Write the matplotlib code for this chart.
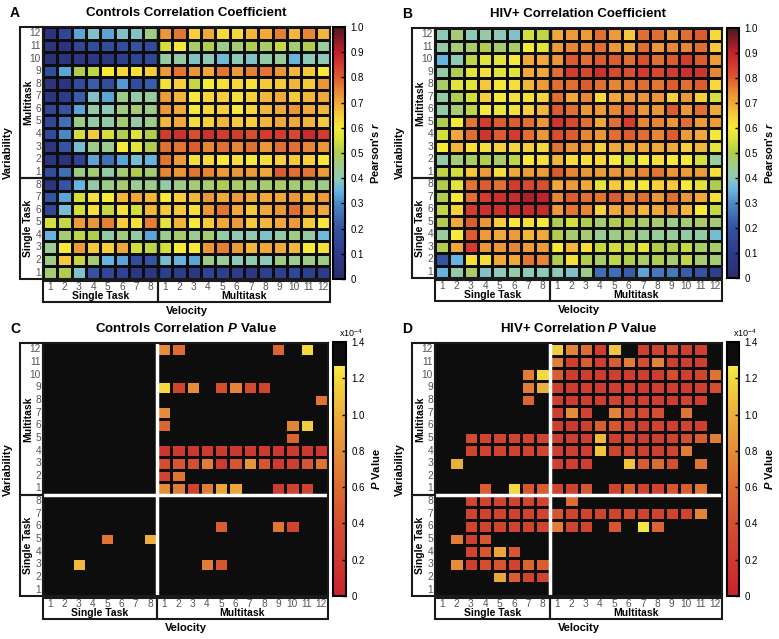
import numpy as np
import matplotlib.pyplot as plt
from matplotlib.colors import LinearSegmentedColormap
from matplotlib.patches import Rectangle

plt.rcParams['font.family'] = ['Liberation Sans', 'DejaVu Sans']
plt.rcParams['mathtext.fontset'] = 'custom'
plt.rcParams['mathtext.rm'] = 'Liberation Sans'
plt.rcParams['mathtext.it'] = 'Liberation Sans:italic:bold'
plt.rcParams['mathtext.bf'] = 'Liberation Sans:bold'

n = np.nan

# rows from top (Multitask 12) to bottom (Single Task 1)
row_labels = ['12', '11', '10', '9', '8', '7', '6', '5', '4', '3', '2', '1',
              '8', '7', '6', '5', '4', '3', '2', '1']
# columns: Single Task 1-8, Multitask 1-12
col_labels = ['1', '2', '3', '4', '5', '6', '7', '8',
              '1', '2', '3', '4', '5', '6', '7', '8', '9', '10', '11', '12']

controls_r = [
    [.05, .15, .33, .38, .33, .38, .38, .45, .73, .77, .65, .70, .63, .63, .68, .70, .76, .68, .75, .68],
    [.05, .05, .15, .18, .17, .18, .20, .17, .55, .60, .48, .50, .45, .47, .50, .48, .53, .47, .50, .43],
    [.03, .05, .07, .08, .06, .12, .14, .15, .42, .42, .38, .40, .36, .40, .38, .42, .43, .35, .40, .40],
    [.18, .33, .50, .52, .60, .64, .62, .65, .72, .77, .73, .70, .77, .72, .76, .77, .73, .68, .66, .60],
    [.05, .05, .17, .22, .17, .32, .18, .22, .62, .65, .53, .60, .62, .64, .62, .66, .66, .68, .66, .73],
    [.06, .10, .22, .38, .33, .45, .42, .43, .72, .68, .60, .64, .65, .62, .65, .68, .70, .66, .68, .70],
    [.15, .20, .33, .42, .40, .46, .47, .45, .73, .70, .60, .64, .65, .60, .64, .68, .70, .73, .70, .68],
    [.15, .25, .45, .42, .42, .47, .42, .45, .68, .70, .62, .65, .68, .66, .65, .68, .70, .70, .68, .66],
    [.17, .30, .55, .66, .55, .50, .56, .50, .85, .87, .82, .87, .85, .85, .82, .85, .85, .83, .88, .85],
    [.07, .20, .37, .45, .44, .60, .57, .50, .78, .77, .80, .75, .78, .75, .78, .73, .78, .78, .75, .73],
    [.05, .04, .13, .33, .25, .33, .37, .35, .77, .72, .62, .63, .60, .62, .60, .62, .65, .66, .65, .60],
    [.18, .25, .45, .47, .42, .47, .50, .47, .75, .73, .77, .75, .72, .73, .72, .70, .80, .78, .77, .72],
    [.05, .20, .35, .42, .45, .47, .44, .45, .42, .45, .47, .47, .50, .48, .47, .47, .48, .47, .47, .45],
    [.20, .33, .55, .62, .60, .68, .70, .68, .60, .65, .68, .73, .70, .72, .70, .70, .70, .73, .68, .72],
    [.15, .37, .55, .62, .53, .62, .55, .68, .66, .66, .62, .73, .77, .70, .66, .70, .73, .78, .72, .70],
    [.55, .53, .72, .73, .76, .65, .62, .76, .57, .68, .60, .66, .70, .72, .66, .68, .70, .72, .66, .60],
    [.35, .47, .52, .50, .42, .46, .42, .33, .44, .47, .44, .47, .42, .41, .41, .38, .42, .45, .42, .36],
    [.44, .60, .72, .66, .65, .70, .54, .52, .55, .60, .60, .73, .76, .72, .68, .70, .70, .68, .60, .62],
    [.45, .66, .53, .47, .35, .33, .18, .20, .37, .35, .33, .45, .43, .40, .41, .40, .45, .44, .45, .45],
    [.47, .50, .38, .20, .15, .13, .07, .07, .12, .10, .08, .13, .12, .10, .08, .12, .12, .15, .12, .10],
]

hiv_r = [
    [.40, .47, .40, .42, .40, .38, .55, .52, .70, .72, .72, .78, .72, .66, .78, .78, .73, .78, .80, .63],
    [.42, .47, .48, .50, .47, .48, .60, .57, .72, .75, .75, .78, .73, .70, .78, .73, .75, .75, .78, .66],
    [.35, .40, .52, .57, .57, .60, .70, .70, .73, .80, .78, .80, .80, .78, .82, .78, .80, .85, .80, .72],
    [.42, .50, .57, .62, .57, .57, .70, .70, .78, .85, .83, .87, .83, .82, .85, .83, .85, .87, .86, .75],
    [.48, .57, .57, .66, .60, .62, .68, .72, .78, .78, .80, .78, .75, .77, .78, .77, .80, .78, .80, .63],
    [.42, .50, .55, .65, .60, .62, .62, .64, .78, .70, .75, .63, .70, .72, .73, .73, .65, .73, .65, .55],
    [.42, .47, .52, .60, .58, .62, .65, .68, .80, .78, .73, .72, .75, .78, .73, .73, .80, .73, .78, .70],
    [.50, .60, .77, .85, .80, .80, .78, .73, .86, .83, .78, .70, .78, .85, .75, .75, .73, .78, .72, .72],
    [.55, .70, .78, .86, .80, .85, .78, .73, .82, .80, .75, .73, .78, .80, .78, .75, .80, .72, .70, .60],
    [.60, .68, .62, .62, .65, .64, .65, .63, .77, .73, .72, .65, .70, .70, .70, .70, .70, .65, .68, .57],
    [.42, .47, .48, .50, .48, .52, .60, .62, .68, .62, .62, .64, .60, .55, .60, .62, .60, .60, .55, .43],
    [.52, .55, .66, .72, .62, .70, .72, .72, .80, .75, .73, .72, .73, .72, .75, .77, .73, .72, .72, .62],
    [.50, .57, .77, .80, .78, .85, .83, .82, .70, .72, .70, .57, .66, .62, .60, .65, .66, .60, .57, .50],
    [.50, .60, .78, .85, .87, .88, .92, .90, .75, .80, .78, .77, .80, .75, .78, .73, .78, .73, .70, .62],
    [.52, .65, .85, .87, .87, .88, .88, .88, .72, .77, .75, .65, .70, .72, .68, .70, .73, .68, .60, .53],
    [.50, .70, .80, .73, .65, .60, .62, .60, .50, .55, .50, .47, .50, .50, .48, .47, .45, .47, .48, .47],
    [.43, .60, .80, .72, .70, .72, .68, .70, .50, .47, .47, .43, .45, .47, .44, .43, .43, .42, .42, .37],
    [.50, .70, .85, .73, .73, .75, .72, .72, .60, .68, .62, .53, .55, .53, .58, .50, .50, .53, .48, .48],
    [.20, .35, .62, .62, .70, .70, .77, .75, .50, .62, .50, .48, .52, .50, .48, .50, .47, .52, .47, .47],
    [.35, .42, .48, .38, .40, .42, .40, .40, .40, .38, .45, .25, .25, .22, .33, .27, .27, .22, .20, .12],
]

# P values in units of 1e-4, n = not significant (drawn black)
controls_p = [
    [n, n, n, n, n, n, n, n, .8, .6, n, n, n, n, n, n, .55, n, 1.2, n],
    [n, n, n, n, n, n, n, n, n, n, n, n, n, n, n, n, n, n, n, n],
    [n, n, n, n, n, n, n, n, n, n, n, n, n, n, n, n, n, n, n, n],
    [n, n, n, n, n, n, n, n, 1.2, .3, .8, n, .4, .75, .35, .3, n, n, n, n],
    [n, n, n, n, n, n, n, n, n, n, n, n, n, n, n, n, n, n, n, .65],
    [n, n, n, n, n, n, n, n, .8, n, n, n, n, n, n, n, n, n, n, n],
    [n, n, n, n, n, n, n, n, .55, n, n, n, n, n, n, n, n, .75, 1.15, n],
    [n, n, n, n, n, n, n, n, n, n, n, n, n, n, n, n, n, .55, n, n],
    [n, n, n, n, n, n, n, n, .15, .2, .18, .2, .2, .18, .2, .2, .18, .2, .2, .18],
    [n, n, n, n, n, n, n, n, .4, .45, .4, .7, .2, .45, .85, .45, .2, .25, .45, .65],
    [n, n, n, n, n, n, n, n, .3, .65, n, n, n, n, n, n, n, n, n, n],
    [n, n, n, n, n, n, n, n, .8, .7, .3, .7, .95, .95, n, n, .2, .3, .3, n],
    [n, n, n, n, n, n, n, n, n, n, n, n, n, n, n, n, n, n, n, n],
    [n, n, n, n, n, n, n, n, n, n, n, n, n, n, n, n, n, n, n, n],
    [n, n, n, n, n, n, n, n, n, n, n, n, .5, n, n, n, .65, .3, n, n],
    [n, n, n, n, .65, n, n, 1.0, n, n, n, n, n, n, n, n, n, n, n, n],
    [n, n, n, n, n, n, n, n, n, n, n, n, n, n, n, n, n, n, n, n],
    [n, n, 1.05, n, n, n, n, n, n, n, n, .7, .45, n, n, n, n, n, n, n],
    [n, n, n, n, n, n, n, n, n, n, n, n, n, n, n, n, n, n, n, n],
    [n, n, n, n, n, n, n, n, n, n, n, n, n, n, n, n, n, n, n, n],
]

hiv_p = [
    [n, n, n, n, n, n, n, n, 1.15, .75, .6, .25, 1.1, n, .25, .3, .4, .25, .25, n],
    [n, n, n, n, n, n, n, n, .7, .25, .5, .25, .5, .7, .4, .75, .25, .25, .25, n],
    [n, n, n, n, n, n, .7, 1.2, .5, .22, .25, .22, .25, .22, .25, .22, .4, .25, .3, .65],
    [n, n, n, n, n, n, .7, 1.0, .25, .22, .25, .22, .25, .25, .22, .25, .25, .22, .25, .4],
    [n, n, n, n, n, n, .55, n, .25, .22, .25, .25, .3, .25, .25, .25, .22, .3, .25, n],
    [n, n, n, n, n, n, n, n, .25, .8, .3, n, .75, .4, .35, .4, n, .65, n, n],
    [n, n, n, n, n, n, n, n, .25, .2, .25, .5, .45, .3, .25, .3, .25, .3, .25, n],
    [n, n, .35, .3, .3, .3, .3, .3, .25, .25, .25, 1.05, .25, .3, .25, .25, .3, .4, .5, .7],
    [n, n, .3, .3, .3, .3, .3, .3, .25, .25, .25, 1.1, .3, .35, .25, .25, .3, .7, n, n],
    [n, 1.0, n, n, n, n, n, n, .25, .25, .25, n, n, 1.1, .5, .6, .4, n, .65, n],
    [n, n, n, n, n, n, n, n, n, n, n, n, n, n, n, n, n, n, n, n],
    [n, n, n, .5, n, 1.2, .45, .5, .3, .3, .45, n, .3, .5, .3, .3, .45, .5, .65, n],
    [n, n, .3, .3, .3, .3, .3, .3, n, .6, n, n, n, n, n, n, n, n, n, n],
    [n, n, .3, .3, .3, .3, .3, .3, .45, .3, .3, .3, .3, .35, .3, .3, .3, .3, .75, n],
    [n, n, .3, .3, .3, .3, .3, .3, .7, .3, .3, n, .45, n, 1.25, .55, n, n, n, n],
    [n, .7, .25, .45, n, n, n, n, n, n, n, n, n, n, n, n, n, n, n, n],
    [n, n, .3, .45, .95, .45, n, n, n, n, n, n, n, n, n, n, n, n, n, n],
    [n, .8, .25, .4, .45, .3, .55, .5, n, n, n, n, n, n, n, n, n, n, n, n],
    [n, n, n, n, .95, .5, .3, .3, n, n, n, n, n, n, n, n, n, n, n, n],
    [n, n, n, n, n, n, n, n, n, n, n, n, n, n, n, n, n, n, n, n],
]

r_cmap = LinearSegmentedColormap.from_list('pearson', [
    (0.0, '#2a2d6e'), (0.1, '#2d3b8c'), (0.2, '#3552a3'), (0.3, '#4a8ac6'),
    (0.35, '#68b5e2'), (0.4, '#8fcab8'), (0.45, '#9fcb8a'), (0.5, '#b0cc50'),
    (0.55, '#d5df3c'), (0.6, '#f7e93a'), (0.65, '#f7cf3b'), (0.7, '#f0a93a'),
    (0.75, '#e88935'), (0.8, '#dc5c30'), (0.85, '#d23c2e'), (0.9, '#c3222d'),
    (0.95, '#8c1d25'), (1.0, '#4d1a1c')])

p_cmap = LinearSegmentedColormap.from_list('pval', [
    (0.0, '#c8232c'), (0.143, '#cd3a2f'), (0.286, '#d44f30'), (0.429, '#dd6c33'),
    (0.571, '#e58d38'), (0.714, '#ecae3c'), (0.857, '#f3d93e'), (0.905, '#f7ea45'),
    (0.906, '#0d0d0d'), (1.0, '#0d0d0d')], N=512)
p_cmap.set_bad('#0d0d0d')

W, H = 779, 639
fig = plt.figure(figsize=(W / 100, H / 100), dpi=100)


def fx(x):
    return x / W


def fy(y):
    return 1 - y / H


def box(x0, y0, x1, y1):
    fig.add_artist(Rectangle((fx(x0), fy(y1)), (x1 - x0) / W, (y1 - y0) / H,
                             transform=fig.transFigure, fill=False, ec='#1a1a1a', lw=1.5))


def panel(data, hm, cb, cmap, vmax, ticks, tlabels, sep, letter, title, cblabel, expo):
    x0, y0, x1, y1 = hm
    ax = fig.add_axes([fx(x0), fy(y1), (x1 - x0) / W, (y1 - y0) / H])
    ax.set_facecolor('#0d0d0d')
    vals = np.ma.masked_invalid(np.array(data, dtype=float))
    ax.pcolormesh(vals, cmap=cmap, vmin=0, vmax=vmax, edgecolors='#0d0d0d', linewidth=1.8)
    ax.set_xlim(0, 20)
    ax.set_ylim(20, 0)
    ax.set_xticks([])
    ax.set_yticks([])
    ax.axvline(8, color=sep, lw=2.5)
    ax.axhline(12, color=sep, lw=2.5)
    for s in ax.spines.values():
        s.set_linewidth(1.5)
        s.set_color('#1a1a1a')

    cw = (x1 - x0) / 20
    rh = (y1 - y0) / 20
    # row label boxes
    box(x0 - 23, y0, x0, y0 + 12 * rh)
    box(x0 - 23, y0 + 12 * rh, x0, y1)
    for i, lab in enumerate(row_labels):
        fig.text(fx(x0 - 2), fy(y0 + (i + 0.5) * rh), lab, ha='right', va='center',
                 fontsize=7.3, color='#555555')
    fig.text(fx(x0 - 15), fy(y0 + 6 * rh), 'Multitask', rotation=90, ha='center', va='center',
             fontsize=7.5, fontweight='bold')
    fig.text(fx(x0 - 15), fy(y0 + 16 * rh), 'Single Task', rotation=90, ha='center', va='center',
             fontsize=7.5, fontweight='bold')
    fig.text(fx(x0 - 35), fy((y0 + y1) / 2), 'Variability', rotation=90, ha='center', va='center',
             fontsize=8, fontweight='bold')
    # column label boxes
    box(x0, y1 + 2, x0 + 8 * cw, y1 + 23)
    box(x0 + 8 * cw, y1 + 2, x1, y1 + 23)
    for j, lab in enumerate(col_labels):
        fig.text(fx(x0 + (j + 0.5) * cw), fy(y1 + 8), lab, ha='center', va='center',
                 fontsize=7.3, color='#555555')
    fig.text(fx(x0 + 4 * cw), fy(y1 + 17), 'Single Task', ha='center', va='center',
             fontsize=7.5, fontweight='bold')
    fig.text(fx(x0 + 14 * cw), fy(y1 + 17), 'Multitask', ha='center', va='center',
             fontsize=7.5, fontweight='bold')
    fig.text(fx((x0 + x1) / 2), fy(y1 + 32), 'Velocity', ha='center', va='center',
             fontsize=8, fontweight='bold')

    # colorbar
    cx0, cy0, cx1, cy1 = cb
    cax = fig.add_axes([fx(cx0), fy(cy1), (cx1 - cx0) / W, (cy1 - cy0) / H])
    sm = plt.cm.ScalarMappable(cmap=cmap, norm=plt.Normalize(0, vmax))
    cbar = fig.colorbar(sm, cax=cax)
    cbar.set_ticks(ticks)
    cbar.set_ticklabels(tlabels)
    cbar.outline.set_linewidth(1.5)
    cax.tick_params(direction='in', length=3, width=1, labelsize=7, pad=4)
    fig.text(fx(cx1 + 30), fy((cy0 + cy1) / 2), cblabel, rotation=90, ha='center', va='center',
             fontsize=8, fontweight='bold')
    if expo:
        fig.text(fx(cx0 + 6), fy(cy0 - 9), r'x10$^{-4}$', ha='left', va='center', fontsize=6.5)

    fig.text(fx(x0 - 33), fy(y0 - 14), letter, ha='left', va='center', fontsize=10, fontweight='bold')
    fig.text(fx((x0 + x1) / 2), fy(y0 - 14), title, ha='center', va='center',
             fontsize=9.5, fontweight='bold')


r_ticks = [0, .1, .2, .3, .4, .5, .6, .7, .8, .9, 1.0]
r_tlabels = ['0', '0.1', '0.2', '0.3', '0.4', '0.5', '0.6', '0.7', '0.8', '0.9', '1.0']
p_ticks = [0, .2, .4, .6, .8, 1.0, 1.2, 1.4]
p_tlabels = ['0', '0.2', '0.4', '0.6', '0.8', '1.0', '1.2', '1.4']

panel(controls_r, (43, 27, 330, 279), (333, 27, 345, 279), r_cmap, 1.0, r_ticks, r_tlabels,
      '#111111', 'A', 'Controls Correlation Coefficient', "Pearson's $r$", False)
panel(hiv_r, (435, 28, 722, 278), (727, 28, 739, 278), r_cmap, 1.0, r_ticks, r_tlabels,
      '#111111', 'B', 'HIV+ Correlation Coefficient', "Pearson's $r$", False)
panel(controls_p, (43, 343, 328, 596), (333, 342, 346, 596), p_cmap, 1.4, p_ticks, p_tlabels,
      'white', 'C', 'Controls Correlation $P$ Value', '$P$ Value', True)
panel(hiv_p, (435, 343, 722, 596), (727, 342, 739, 596), p_cmap, 1.4, p_ticks, p_tlabels,
      'white', 'D', 'HIV+ Correlation $P$ Value', '$P$ Value', True)

plt.savefig('out.png', dpi=100)
